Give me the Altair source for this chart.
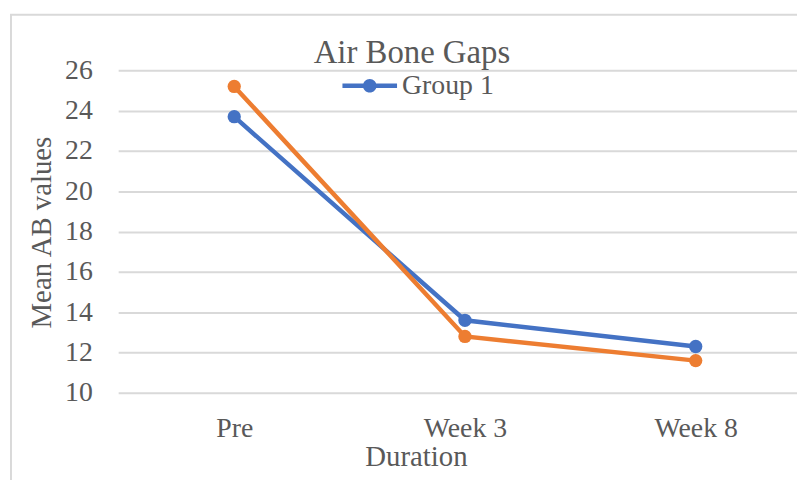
import altair as alt
import pandas as pd

# ---- data ----
durations = ["Pre", "Week 3", "Week 8"]
group1 = [23.7, 13.6, 12.3]
group2 = [25.2, 12.8, 11.6]
series_names = ["Group 1", "Group 2"]
y_ticks = [10, 12, 14, 16, 18, 20, 22, 24, 26]

rows = []
for name, vals in zip(series_names, [group1, group2]):
    for i, (d, v) in enumerate(zip(durations, vals)):
        rows.append({"Duration": d, "pos": i, "value": v, "series": name})
df = pd.DataFrame(rows)

FONT = "Liberation Serif"
TXT = "#595959"
GRID = "#d9d9d9"
BLUE = "#4472C4"
ORANGE = "#ED7D31"

W, H = 684, 325

label_expr = "[" + ",".join("'%s'" % d for d in durations) + "][datum.value]"

color = alt.Color(
    "series:N",
    scale=alt.Scale(domain=series_names, range=[BLUE, ORANGE]),
    legend=alt.Legend(
        values=["Group 1"],
        title=None,
        orient="none",
        legendX=226,
        legendY=-12,
        symbolType="M-1,-0.08H1V0.08H-1Z M0.25,0 A0.25,0.25 0 1,1 -0.25,0 A0.25,0.25 0 1,1 0.25,0Z",
        symbolSize=3025,
        symbolFillColor=BLUE,
        symbolStrokeWidth=0,
        labelFont=FONT,
        labelFontSize=28,
        labelColor=TXT,
        labelOffset=5,
        labelLimit=300,
    ),
)

x = alt.X(
    "pos:Q",
    scale=alt.Scale(domain=[-0.503, 2.439], nice=False, zero=False),
    axis=alt.Axis(
        values=list(range(len(durations))),
        labelExpr=label_expr,
        title="Duration",
        titleFont=FONT,
        titleFontSize=29,
        titleFontWeight="normal",
        titleColor=TXT,
        titleX=300,
        titleY=73,
        titleAlign="center",
        titleBaseline="alphabetic",
        labelFont=FONT,
        labelFontSize=28,
        labelColor=TXT,
        labelBaseline="alphabetic",
        labelPadding=44,
        labelAngle=0,
        labelFlush=False,
        labelOverlap=False,
        domain=False,
        ticks=False,
        grid=False,
    ),
)

y = alt.Y(
    "value:Q",
    scale=alt.Scale(domain=[10, 26], nice=False, zero=False),
    axis=alt.Axis(
        values=y_ticks,
        title="Mean AB values",
        titleFont=FONT,
        titleFontSize=29,
        titleFontWeight="normal",
        titleColor=TXT,
        titleX=-68,
        titleY=163,
        titleAngle=-90,
        titleAlign="center",
        titleBaseline="alphabetic",
        labelFont=FONT,
        labelFontSize=28,
        labelColor=TXT,
        labelPadding=26,
        domain=False,
        ticks=False,
        grid=True,
        gridColor=GRID,
        gridWidth=2,
    ),
)

lines = alt.Chart(df).mark_line(
    strokeWidth=4.5,
    point=alt.OverlayMarkDef(size=180, filled=True, opacity=1),
).encode(
    x=x,
    y=y,
    color=color,
    order=alt.Order("pos:Q"),
    tooltip=["Duration:N", "series:N", "value:Q"],
)

# decorative outer frame of the chart area
frame = alt.Chart(pd.DataFrame({"f": [0]})).mark_rect(
    fill=None, stroke=GRID, strokeWidth=2
).encode(
    x=alt.value(-108), x2=alt.value(760), y=alt.value(-56), y2=alt.value(480)
)

chart = alt.layer(frame, lines).properties(
    width=W,
    height=H,
    background="white",
    padding={"left": 111, "top": 61, "right": 0, "bottom": 86},
    autosize=alt.AutoSizeParams(type="none"),
    title=alt.TitleParams(
        text="Air Bone Gaps",
        font=FONT,
        fontSize=33,
        fontWeight="normal",
        color=TXT,
        anchor="middle",
        frame="group",
        dx=-46,
        baseline="alphabetic",
        offset=-83,
    ),
).configure_view(stroke="transparent", strokeWidth=0)

chart.save("out.html", embed_options={"renderer": "svg", "actions": False})
